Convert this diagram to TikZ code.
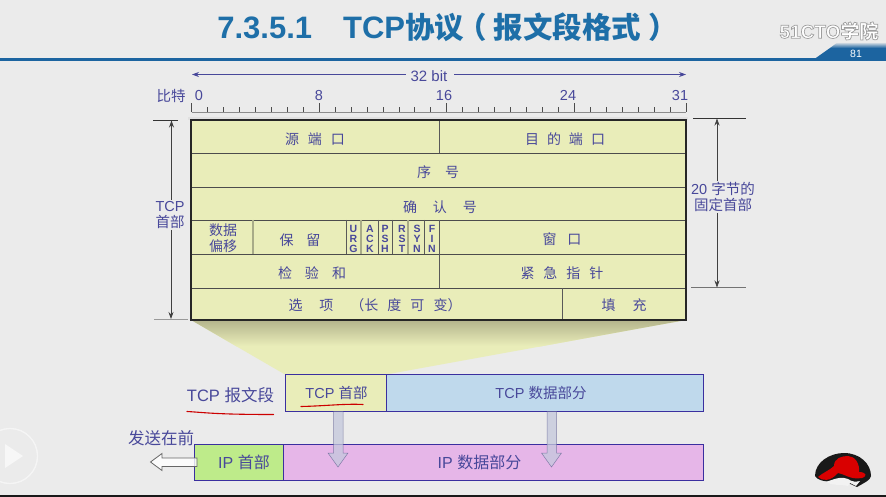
\documentclass[tikz,border=0pt]{standalone}
\usepackage{fontspec}
\setmainfont{Liberation Sans}
\newfontfamily\cjk{Noto Sans CJK SC}
\newcommand{\zh}[1]{{\cjk #1}}
\newcommand{\gp}[1]{\hspace{#1pt}}
\usetikzlibrary{arrows.meta,shadings}
\definecolor{bg}{HTML}{EBEBEB}
\definecolor{ink}{HTML}{48489A}
\definecolor{boxline}{HTML}{3A2F9F}
\definecolor{cellfill}{HTML}{E9EDB9}
\definecolor{tcpdata}{HTML}{BFD9EC}
\definecolor{iphead}{HTML}{BEEB8A}
\definecolor{ipdata}{HTML}{E6B6E8}
\definecolor{titleblue}{HTML}{1E6FA8}
\definecolor{barblue}{HTML}{1C64A0}
\definecolor{softgray}{HTML}{A8AB88}
\definecolor{funneltop}{HTML}{B4B48C}
\definecolor{arrowfill}{HTML}{C4C8DC}
\tikzset{
  x=1pt,y=-1pt,
  every node/.style={inner sep=0pt,outer sep=0pt},
  txt/.style={text=ink,font=\fontsize{14}{16.5}\selectfont,align=center},
  bits/.style={text=ink,font=\fontsize{14.5}{16}\selectfont},
  side/.style={text=ink,font=\fontsize{14.5}{16.5}\selectfont,align=center},
  flag/.style={text=ink,font=\bfseries\fontsize{10.5}{10}\selectfont,align=center},
  big/.style={text=ink,font=\fontsize{14.5}{17}\selectfont},
  bigger/.style={text=ink,font=\fontsize{16}{18}\selectfont},
  packet/.style={draw=boxline,line width=1pt,anchor=north west,text=ink},
  rowline/.style={line width=0.9pt,draw=black!70},
  fieldline/.style={line width=0.8pt,draw=black!65},
  softline/.style={line width=1.2pt,draw=softgray},
  dimline/.style={line width=0.7pt,draw=black!75,-{Stealth[length=7pt,width=5pt]}},
  ext/.style={line width=0.8pt,draw=black!80},
  bitarrow/.style={line width=0.7pt,draw=ink,-{Stealth[length=7pt,width=5pt]}},
  tick/.style={line width=0.7pt,draw=black!70},
  redmark/.style={line width=1.1pt,draw=red!80!black,line cap=round},
  blockarrow/.style={draw=ink!60!gray,draw opacity=.7,line width=0.5pt,fill=arrowfill,fill opacity=0.75},
}
\begin{document}
\begin{tikzpicture}
\useasboundingbox (0,0) rectangle (886,497);
\fill[bg] (0,0) rectangle (886,497);
% bottom edge and header
\fill[black!90] (0,495) rectangle (886,497);
\fill[barblue] (0,58) rectangle (886,61);
\fill[barblue] (813,60) -- (830,48) -- (886,48) -- (886,60) -- cycle;
\shade[top color=bg,bottom color=barblue] (830,48) -- (838,42) -- (886,42) -- (886,48) -- cycle;
\node (page) at (856,53.5) {\color{white}\fontsize{10.5}{12}\selectfont 81};
\node (brand) at (829,31) {\fontsize{19}{20}\selectfont\bfseries\color{white}\special{pdf:code 2 Tr 0.7 w 0.62 G}51CTO\zh{学院}\special{pdf:code 0 Tr}};
\node (title) at (447.5,27) {\color{titleblue}\bfseries\fontsize{31}{34}\selectfont 7.3.5.1\gp{31}TCP\fontsize{29.5}{34}\selectfont\zh{协议\gp{-7}（\gp{7}报文段格式\gp{7}）}};
% play button
\draw[white,line width=1.3pt,opacity=.55] (10,456) circle (27.5);
\fill[white,opacity=.6] (5,444) -- (23,456) -- (5,468) -- cycle;
% shadow funnel
\coordinate (fa) at (191,320);
\coordinate (fb) at (686,320);
\coordinate (fc) at (386,374.5);
\coordinate (fd) at (285,374.5);
\fill[cellfill] (fa) -- (fb) -- (fc) -- (fd) -- cycle;
\begin{scope}
\clip (fa) -- (fb) -- (fc) -- (fd) -- cycle;
\shade[top color=funneltop,bottom color=cellfill] (185,320) rectangle (690,346);
\end{scope}
% table
\coordinate (tl) at (191,120);
\coordinate (tr) at (686,120);
\coordinate (bl) at (191,320);
\coordinate (br) at (686,320);
\fill[black!12] (188,117.5) rectangle (688,120);
\fill[cellfill] (tl) rectangle (br);
\foreach \yy in {153,187,220,254,288}
  \draw[rowline] (191,\yy) -- (686,\yy);
\draw[fieldline] (439,120) -- (439,153);
\draw[fieldline] (439,220) -- (439,288);
\draw[softline] (253,220) -- (253,254);
\draw[fieldline] (346,220) -- (346,254);
\draw[softline] (361,220) -- (361,254);
\draw[fieldline] (378,220) -- (378,254);
\draw[fieldline] (392,220) -- (392,254);
\draw[softline] (408,220) -- (408,254);
\draw[fieldline] (424,220) -- (424,254);
\draw[fieldline] (562,288) -- (562,320);
\draw[line width=1.6pt,black!85] (tl) rectangle (br);
% cell text
\node[txt] (srcport) at (315,139) {\zh{源\gp{9}端\gp{9}口}};
\node[txt] (dstport) at (565,139) {\zh{目\gp{8}的\gp{8}端\gp{8}口}};
\node[txt] (seq) at (438,172) {\zh{序\gp{14}号}};
\node[txt] (ack) at (440,207) {\zh{确\gp{16}认\gp{16}号}};
\node[txt] (offset) at (223,238) {\zh{数据}\\\zh{偏移}};
\node[txt] (reserved) at (300,240) {\zh{保\gp{13}留}};
\node[flag] (urg) at (353.5,239) {U\\R\\G};
\node[flag] (fack) at (370,239) {A\\C\\K};
\node[flag] (psh) at (385,239) {P\\S\\H};
\node[flag] (rst) at (402,239) {R\\S\\T};
\node[flag] (syn) at (417,239) {S\\Y\\N};
\node[flag] (fin) at (432,239) {F\\I\\N};
\node[txt] (window) at (562,239) {\zh{窗\gp{11}口}};
\node[txt] (checksum) at (312,273) {\zh{检\gp{13}验\gp{13}和}};
\node[txt] (urgent) at (562,273) {\zh{紧\gp{9}急\gp{9}指\gp{9}针}};
\node[txt] (options) at (375,305) {\zh{选\gp{17}项\gp{17}（长\gp{9}度\gp{9}可\gp{9}变）}};
\node[txt] (padding) at (624,305) {\zh{填\gp{17}充}};
% ruler
\node[bits] (biter) at (171,96) {\zh{比特}};
\node[bits] (b0) at (199,96) {0};
\node[bits] (b8) at (319,96) {8};
\node[bits] (b16) at (444,96) {16};
\node[bits] (b24) at (568,95.5) {24};
\node[bits] (b31) at (680,96) {31};
\draw[line width=0.9pt,black!45] (191.5,112) -- (686,112);
\foreach \i in {0,...,31}{
  \pgfmathsetmacro{\xx}{191.5+\i*15.95}
  \pgfmathsetmacro{\hh}{(mod(\i,8)==0 || \i==31) ? 103 : 107}
  \draw[tick] (\xx,112) -- (\xx,\hh);
}
\node[bits,font=\fontsize{15}{17}\selectfont] (bitlabel) at (429,76) {32 bit};
\coordinate (bitl) at (192,74.5);
\coordinate (bitr) at (686,74.5);
\draw[bitarrow] ([xshift=-5pt]bitlabel.west |- bitl) -- (bitl);
\draw[bitarrow] ([xshift=7pt]bitlabel.east |- bitr) -- (bitr);
% left dimension
\coordinate (ltop) at (171.5,120.5);
\coordinate (lbot) at (171,319);
\draw[ext] (153,120.5) -- (178,120.5);
\draw[line width=0.8pt,black!40] (154,319) -- (188,319);
\node[side] (tcphead) at (170,215) {TCP\\\zh{首部}};
\draw[dimline] ([yshift=1pt]tcphead.north -| ltop) -- (ltop);
\draw[dimline] ([yshift=-1pt]tcphead.south -| lbot) -- (lbot);
% right dimension
\coordinate (rtop) at (717,118.5);
\coordinate (rbot) at (717,287.5);
\draw[ext] (693,118.5) -- (746,118.5);
\draw[line width=0.8pt,black!55] (691,287.5) -- (746,287.5);
\node[side] (fixed) at (723,197) {20 \zh{字节的}\\\zh{固定首部}};
\draw[dimline] ([yshift=1pt]fixed.north -| rtop) -- (rtop);
\draw[dimline] ([yshift=-1pt]fixed.south -| rbot) -- (rbot);
% packets
\node[packet,fill=cellfill,minimum width=101.5pt,minimum height=36.5pt] (tcph) at (285,374.5) {};
\node[packet,fill=tcpdata,minimum width=316.5pt,minimum height=36.5pt] (tcpd) at (386.5,374.5) {};
\node[packet,fill=iphead,minimum width=89pt,minimum height=36.5pt] (iph) at (194.5,444) {};
\node[packet,fill=ipdata,minimum width=419.5pt,minimum height=36.5pt] (ipd) at (283.5,444) {};
\node[big] (tcpht) at (336.5,393) {TCP \zh{首部}};
\node[big] (tcpdt) at (541,393) {TCP \zh{数据部分}};
\node[bigger] (ipht) at (244,462) {IP \zh{首部}};
\node[bigger] (ipdt) at (479.5,462) {IP \zh{数据部分}};
\node[bigger,font=\fontsize{16.5}{18}\selectfont] (seglabel) at (230.5,395.5) {TCP \zh{报文段}};
\node[bigger,font=\fontsize{16.5}{18}\selectfont] (front) at (161,438) {\zh{发送在前}};
% block arrows
\draw[blockarrow] (333.5,411.5) -- (343,411.5) -- (343,453) -- (348,453) -- (338,467) -- (328,453) -- (333.5,453) -- cycle;
\draw[blockarrow] (547,411.5) -- (556.5,411.5) -- (556.5,453) -- (561.5,453) -- (551.5,467) -- (541.5,453) -- (547,453) -- cycle;
\draw[draw=black!60,line width=0.8pt,fill=white,fill opacity=.8] (197,458) -- (162,458) -- (162,453.5) -- (150.5,462) -- (162,470.5) -- (162,466.5) -- (197,466.5) -- cycle;
% red handwriting
\draw[redmark] (187,411.5) .. controls (205,412.5) and (215,414.5) .. (273.5,414.5);
\draw[redmark] (301,406.5) .. controls (325,406) and (345,403.5) .. (363,404.5);
% logo
\fill[black!90] (815,476) .. controls (815,462) and (830,453) .. (844,453) .. controls (860,453) and (871,464) .. (871,476) .. controls (871,480) and (862,484) .. (857,487) -- (846,482) .. controls (838,481) and (820,484) .. (815,476) -- cycle;
\fill[red!85!black] (818,477) .. controls (824,472) and (830,470) .. (834,466) .. controls (834,458) and (842,456) .. (848,456) .. controls (855,456) and (860,464) .. (859,472) .. controls (866,472) and (868,476) .. (862,478) .. controls (850,480) and (845,474) .. (838,473) .. controls (830,482) and (822,481) .. (818,477) -- cycle;
\fill[white!90!gray] (826,482) .. controls (834,479) and (842,476) .. (848,479) .. controls (852,482) and (856,482) .. (860,481) -- (856,486) -- (850,483) -- (848,486) .. controls (840,484) and (832,486) .. (826,482) -- cycle;
\end{tikzpicture}
\end{document}
